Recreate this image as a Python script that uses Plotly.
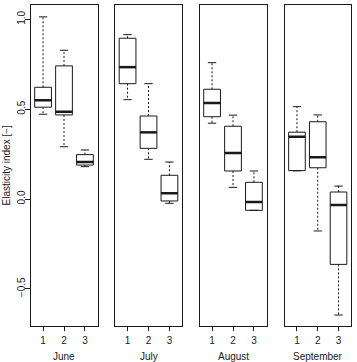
import plotly.graph_objects as go

months = ["June", "July", "August", "September"]
groups = [1, 2, 3]

june_lower = [0.472, 0.291, 0.180]
june_q1 = [0.511, 0.468, 0.189]
june_med = [0.550, 0.486, 0.206]
june_q3 = [0.622, 0.741, 0.247]
june_upper = [1.014, 0.828, 0.273]

july_lower = [0.553, 0.221, -0.024]
july_q1 = [0.642, 0.282, -0.011]
july_med = [0.734, 0.371, 0.032]
july_q3 = [0.895, 0.462, 0.132]
july_upper = [0.915, 0.642, 0.206]

aug_lower = [0.422, 0.065, -0.063]
aug_q1 = [0.458, 0.156, -0.063]
aug_med = [0.535, 0.256, -0.017]
aug_q3 = [0.611, 0.405, 0.093]
aug_upper = [0.759, 0.467, 0.156]

sep_lower = [0.157, -0.178, -0.646]
sep_q1 = [0.158, 0.174, -0.364]
sep_med = [0.347, 0.233, -0.033]
sep_q3 = [0.372, 0.430, 0.039]
sep_upper = [0.514, 0.468, 0.072]

y_ticks = [-0.5, 0.0, 0.5, 1.0]
y_tick_labels = ["\u22120.5", "0.0", "0.5", "1.0"]
y_title = "Elasticity index [\u2212]"

stats = [
    (june_lower, june_q1, june_med, june_q3, june_upper),
    (july_lower, july_q1, july_med, july_q3, july_upper),
    (aug_lower, aug_q1, aug_med, aug_q3, aug_upper),
    (sep_lower, sep_q1, sep_med, sep_q3, sep_upper),
]

BOXW = 0.8
CAPW = 0.4
INK = "#1a1a1a"
FONT = "Liberation Sans, Arial, sans-serif"

fig = go.Figure()
for i, (lo, q1, md, q3, up) in enumerate(stats):
    xa = "x" if i == 0 else f"x{i+1}"
    ya = "y" if i == 0 else f"y{i+1}"
    wx, wy, cx, cy, mx, my = [], [], [], [], [], []
    for g, l, a, m, b, u in zip(groups, lo, q1, md, q3, up):
        wx += [g, g, None, g, g, None]
        wy += [b, u, None, a, l, None]
        cx += [g - CAPW / 2, g + CAPW / 2, None, g - CAPW / 2, g + CAPW / 2, None]
        cy += [u, u, None, l, l, None]
        mx += [g - BOXW / 2, g + BOXW / 2, None]
        my += [m, m, None]
    fig.add_trace(go.Scatter(x=wx, y=wy, mode="lines", xaxis=xa, yaxis=ya,
                             line=dict(color=INK, width=1, dash="2px,2px"),
                             hoverinfo="skip", showlegend=False))
    fig.add_trace(go.Scatter(x=cx, y=cy, mode="lines", xaxis=xa, yaxis=ya,
                             line=dict(color=INK, width=1),
                             hoverinfo="skip", showlegend=False))
    fig.add_trace(go.Box(x=groups, q1=q1, median=md, q3=q3,
                         lowerfence=q1, upperfence=q3,
                         width=BOXW, whiskerwidth=0, boxpoints=False,
                         fillcolor="white", line=dict(color=INK, width=1),
                         xaxis=xa, yaxis=ya, showlegend=False))
    fig.add_trace(go.Scatter(x=mx, y=my, mode="lines", xaxis=xa, yaxis=ya,
                             line=dict(color=INK, width=2.5),
                             hoverinfo="skip", showlegend=False))

L, R, T, B = 30, 6, 5, 36
W, H = 357, 362
pw = W - L - R
ph = H - T - B
panels_px = [(30.5, 97.5), (115, 182), (199.5, 266.5), (284.5, 351)]
domains = [[(a - L) / pw, min(1.0, (b - L) / pw)] for a, b in panels_px]

layout = dict(
    width=W, height=H,
    margin=dict(l=L, r=R, t=T, b=B, pad=0),
    paper_bgcolor="white", plot_bgcolor="white",
    font=dict(family=FONT, size=10, color=INK),
    showlegend=False,
)
yrange = [-0.707, 1.08]
for i in range(4):
    xk = "xaxis" if i == 0 else f"xaxis{i+1}"
    yk = "yaxis" if i == 0 else f"yaxis{i+1}"
    ya = "y" if i == 0 else f"y{i+1}"
    xa = "x" if i == 0 else f"x{i+1}"
    layout[xk] = dict(domain=domains[i], range=[0.4, 3.6], anchor=ya,
                      tickvals=groups, ticktext=[str(g) for g in groups],
                      ticks="outside", ticklen=4, tickwidth=1, tickcolor=INK,
                      showline=True, mirror=True, linecolor=INK, linewidth=1,
                      showgrid=False, zeroline=False, fixedrange=True,
                      ticklabelstandoff=1,
                      tickfont=dict(size=10))
    yd = dict(domain=[0, 1], range=yrange, anchor=xa,
              showline=True, mirror=True, linecolor=INK, linewidth=1,
              showgrid=False, zeroline=False, fixedrange=True)
    if i == 0:
        yd.update(tickvals=y_ticks, ticktext=y_tick_labels, ticks="outside",
                  ticklen=5, tickwidth=1, tickcolor=INK, tickangle=-90,
                  ticklabelstandoff=-4,
                  tickfont=dict(size=10))
    else:
        yd.update(matches="y", showticklabels=False, ticks="")
    layout[yk] = yd
fig.update_layout(**layout)

for i, m in enumerate(months):
    cx = (panels_px[i][0] + panels_px[i][1]) / 2
    fig.add_annotation(text=m, xref="paper", yref="paper",
                       x=(cx - L) / pw, y=-(356 - (T + ph)) / ph,
                       xanchor="center", yanchor="middle", showarrow=False,
                       font=dict(size=10, color=INK))
fig.add_annotation(text=y_title, xref="paper", yref="paper",
                   x=(6 - L) / pw, y=0.5, textangle=-90,
                   xanchor="center", yanchor="middle", showarrow=False,
                   font=dict(size=10, color=INK))

fig.write_html("out.html")
